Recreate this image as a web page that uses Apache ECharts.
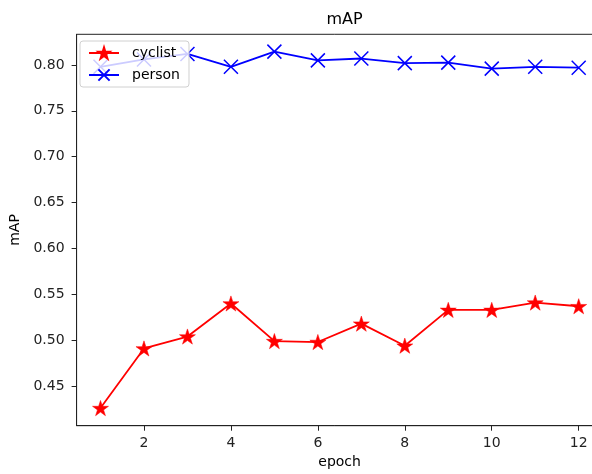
<!DOCTYPE html>
<html>
<head>
<meta charset="utf-8">
<script src="https://cdn.jsdelivr.net/npm/echarts@6/dist/echarts.min.js"></script>
<style>html,body{margin:0;padding:0;background:#fff}#c{width:592px;height:474px}</style>
</head>
<body>
<div id="c"></div>
<script>
const epochs = [1,2,3,4,5,6,7,8,9,10,11,12];
const cyclist = [0.426, 0.491, 0.504, 0.540, 0.499, 0.498, 0.518, 0.494, 0.533, 0.533, 0.541, 0.537];
const person = [0.798, 0.806, 0.812, 0.798, 0.8145, 0.805, 0.807, 0.802, 0.8025, 0.796, 0.798, 0.797];
const xTicks = [2,4,6,8,10,12];
const yTicks = [0.45,0.50,0.55,0.60,0.65,0.70,0.75,0.80];

const star = 'path://M100,0 L122.45,69.1 L195.1,69.1 L136.3,111.8 L158.8,180.9 L100,138.2 L41.2,180.9 L63.7,111.8 L4.9,69.1 L77.55,69.1 Z';
const cross = 'path://M0,0 L10,10 M10,0 L0,10';
const font = 'DejaVu Sans';

const chart = echarts.init(document.getElementById('c'), null, {renderer: 'canvas'});
chart.setOption({
  animation: false,
  backgroundColor: '#fff',
  textStyle: {fontFamily: font},
  title: {
    text: 'mAP', left: 339.6, top: 7, textAlign: 'center',
    textStyle: {fontFamily: font, fontSize: 16, fontWeight: 'normal', color: '#000'}
  },
  grid: {
    left: 76.6, top: 34.3, right: -10.6, bottom: 48.3,
    containLabel: false, outerBoundsMode: 'none',
    show: true, borderColor: '#222', borderWidth: 1, backgroundColor: 'transparent'
  },
  legend: {
    orient: 'vertical', left: 80, top: 41,
    itemWidth: 30, itemHeight: 14, itemGap: 8,
    padding: [5, 9, 5, 8],
    backgroundColor: 'rgba(255,255,255,0.8)', borderColor: '#d0d0d0', borderWidth: 1, borderRadius: 3,
    textStyle: {fontFamily: font, fontSize: 14, color: '#000', padding: [0,0,0,8]},
    data: ['cyclist', 'person']
  },
  xAxis: {
    type: 'value', min: 0.45, max: 12.55,
    name: 'epoch', nameLocation: 'middle', nameGap: 29,
    nameTextStyle: {fontFamily: font, fontSize: 14, color: '#000'},
    axisLine: {show: true, lineStyle: {color: '#222', width: 1}},
    axisTick: {show: true, inside: false, length: 5, lineStyle: {color: '#222'}, customValues: xTicks},
    axisLabel: {fontFamily: font, fontSize: 14, color: '#222', margin: 11, customValues: xTicks},
    splitLine: {show: false}
  },
  yAxis: {
    type: 'value', min: 0.4068, max: 0.8334,
    name: 'mAP', nameLocation: 'middle', nameGap: 51,
    nameTextStyle: {fontFamily: font, fontSize: 14, color: '#000'},
    axisLine: {show: true, lineStyle: {color: '#222', width: 1}},
    axisTick: {show: true, inside: false, length: 5, lineStyle: {color: '#222'}, customValues: yTicks},
    axisLabel: {fontFamily: font, fontSize: 14, color: '#222', margin: 12,
      customValues: yTicks, formatter: v => v.toFixed(2)},
    splitLine: {show: false}
  },
  series: [
    {
      name: 'cyclist', type: 'line',
      data: epochs.map((e, i) => [e, cyclist[i]]),
      symbol: star, symbolSize: [16, 15.2], showAllSymbol: true,
      lineStyle: {color: '#ff0000', width: 1.8},
      itemStyle: {color: '#ff0000', borderColor: '#ff0000', borderWidth: 0.5},
      z: 2
    },
    {
      name: 'person', type: 'line',
      data: epochs.map((e, i) => [e, person[i]]),
      symbol: cross, symbolSize: 14, showAllSymbol: true,
      lineStyle: {color: '#0000ff', width: 1.8},
      itemStyle: {color: '#0000ff', borderColor: '#0000ff', borderWidth: 1.5},
      z: 2
    }
  ]
});
</script>
</body>
</html>
